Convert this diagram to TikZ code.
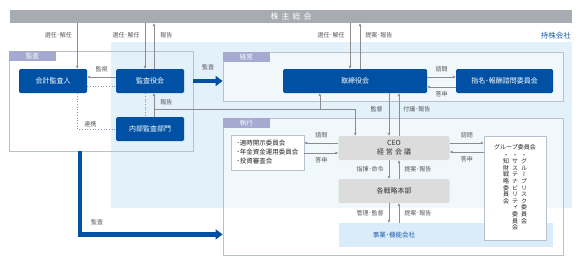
\documentclass[tikz,border=0pt]{standalone}
\usepackage{fontspec}
\setmainfont{Noto Sans CJK JP}
\newfontfamily\tatefont[RawFeature=+vert]{Noto Sans CJK JP}
\usetikzlibrary{arrows.meta,positioning,calc}
\definecolor{kbar}{HTML}{A6ACB1}
\definecolor{kbg}{HTML}{E3F1FA}
\definecolor{kframe}{HTML}{B8C2CE}
\definecolor{ktab}{HTML}{A6AAD0}
\definecolor{kblue}{HTML}{0051A3}
\definecolor{kgray}{HTML}{DCDCDC}
\definecolor{kpale}{HTML}{DAECF9}
\definecolor{ktext}{HTML}{1E5EA8}
\definecolor{kline}{HTML}{8C8C8C}
\definecolor{klabel}{HTML}{555555}
\definecolor{kdot}{HTML}{7E94B4}
\begin{document}
\begin{tikzpicture}[x=1pt, y=-1pt, >={Latex[length=3pt,width=3pt]},
  topbar/.style={fill=kbar, text=white, minimum width=562pt, minimum height=13pt, inner sep=0pt, font=\fontsize{8}{9}\selectfont},
  panel/.style={draw=kframe, line width=.8pt, inner sep=0pt},
  tabbox/.style={fill=ktab, text=white, minimum width=47pt, minimum height=10.5pt, inner sep=0pt, anchor=north west, font=\fontsize{6.5}{7}\selectfont},
  bluebox/.style={fill=kblue, text=white, rounded corners=1.5pt, minimum width=68pt, minimum height=24pt, inner sep=0pt, font=\fontsize{7}{8}\selectfont},
  graybox/.style={fill=kgray, text=black!80, rounded corners=2pt, minimum width=111pt, minimum height=24pt, inner sep=0pt, align=center, font=\fontsize{7}{9}\selectfont},
  listbox/.style={draw=kframe, fill=white, inner sep=0pt},
  lbl/.style={text=klabel, inner sep=1pt, font=\fontsize{6}{7}\selectfont},
  tate/.style={anchor=north, inner sep=0pt, align=center, text=black!85, font=\tatefont\fontsize{6}{6.6}\selectfont},
  conn/.style={draw=kline, line width=.6pt},
  dotline/.style={draw=kdot, line width=.7pt, dotted},
  bigarrow/.style={draw=kblue, line width=4.5pt, -{Triangle[length=7pt,width=10pt]}}]
\useasboundingbox (0,0) rectangle (581,265);
\fill[white] (0,0) rectangle (581,265);
\fill[kbg] (111,42) rectangle (572,208);

% top
\node[topbar] (soukai) at (291,16.5) {株\kern3pt 主\kern3pt 総\kern3pt 会};
\node[text=ktext, anchor=east, inner sep=0pt, font=\fontsize{7.5}{8}\selectfont] (mochikabu) at (571,36) {持株会社};

% panels
\node[panel, minimum width=184pt, minimum height=100pt] (kansa) at (101,101) {};
\node[panel, fill=white, fill opacity=.5, minimum width=340pt, minimum height=49pt] (keiei) at (393,76.5) {};
\node[panel, fill=white, fill opacity=.5, minimum width=340pt, minimum height=137pt] (shikkou) at (393,186.5) {};
\node[tabbox] (kansatab) at (kansa.north west) {監査};
\node[tabbox] (keieitab) at (keiei.north west) {経営};
\node[tabbox] (shikkoutab) at (shikkou.north west) {執行};

% boxes
\node[bluebox] (kaikei) at (53,81) {会計監査人};
\node[bluebox] (kansayaku) at (150,81) {監査役会};
\node[bluebox] (naibu) at (150,129) {内部監査部門};
\node[bluebox, minimum width=144pt] (torishimari) at (355,81) {取締役会};
\node[bluebox, minimum width=97pt] (shimei) at (504.5,81) {指名･報酬諮問委員会};
\node[graybox] (ceo) at (394,148) {CEO\\経\kern2pt 営\kern2pt 会\kern2pt 議};
\node[graybox] (senryaku) at (394,191) {各戦略本部};
\node[fill=kpale, minimum width=214pt, minimum height=24pt, inner sep=0pt] (jigyou) at (446,235) {};
\node[text=ktext, inner sep=0pt, font=\fontsize{6.5}{7}\selectfont] (jigyoutext) at (jigyou -| senryaku) {事業･機能会社};
\node[listbox, minimum width=73pt, minimum height=35pt, align=left, text=black!85, font=\fontsize{6.5}{9}\selectfont] (iinkai) at (267.5,152.5) {･適時開示委員会\\･年金資金運用委員会\\･投資審査会};
\node[listbox, minimum width=62pt, minimum height=104pt] (group) at (515,188) {};
\node[lbl, text=black!85] (grouptitle) at (515,147) {グループ委員会};
\node[tate] (gr1) at (524,154) {・\\グ\\ル\\ー\\プ\\リ\\ス\\ク\\委\\員\\会};
\node[tate] (gr2) at (515,154) {・\\サ\\ス\\テ\\ナ\\ビ\\リ\\テ\\ィ\\委\\員\\会};
\node[tate] (gr3) at (506,154) {・\\知\\財\\戦\\略\\委\\員\\会};

% connector columns
\coordinate (k1) at ([xshift=-10pt]kaikei.north east);
\coordinate (k2) at ([xshift=-5pt]kansayaku.north);
\coordinate (k3) at ([xshift=4pt]kansayaku.north);
\coordinate (t1) at ([xshift=37pt]torishimari.south west);
\coordinate (t2) at ([xshift=-5pt]torishimari.north);
\coordinate (t3) at ([xshift=5pt]torishimari.north);
\coordinate (c1) at ([xshift=17pt]ceo.north west);
\coordinate (c2) at ([xshift=-5pt]ceo.north);
\coordinate (c3) at ([xshift=5pt]ceo.north);
\coordinate (e1) at ([yshift=5pt]ceo.west);
\coordinate (e2) at ([yshift=-5pt]ceo.west);
\coordinate (e3) at ([yshift=5pt]ceo.east);
\coordinate (e4) at ([yshift=-4pt]ceo.east);
\coordinate (hb) at ($(keiei.south)!.5!(shikkou.north)$);
\coordinate (b1) at ([xshift=71.5pt]kansa.south west);
\coordinate (b2) at ([yshift=21pt]shikkou.south west);

% audit side
\draw[conn,->] (k1 |- soukai.south) -- node[lbl, left=4pt, pos=.26] (l1) {選任･解任} (k1);
\draw[conn,->] (k2 |- soukai.south) -- node[lbl, left=4pt, pos=.26] (l2) {選任･解任} (k2);
\draw[conn,->] (k3) -- node[lbl, right=5pt, pos=.74] (l3) {報告} (k3 |- soukai.south);
\draw[conn,->] ([yshift=4pt]kansayaku.west) -- node[lbl, above=4pt] (l4) {監視} ([yshift=4pt]kaikei.east);
\draw[dotline] ([yshift=-5pt]kaikei.east) -- ([yshift=-5pt]kansayaku.west);
\draw[dotline] (k1 |- kaikei.south) |- node[lbl, above=1pt, pos=.67] (l5) {連携} (naibu.west);
\draw[dotline] (k2 |- kansayaku.south) -- (k2 |- naibu.north);
\draw[conn,->] (k3 |- naibu.north) -- node[lbl, right=5pt, pos=.62] (l6) {報告} (k3 |- kansayaku.south);
\draw[conn,->] (k3 |- hb) -| (c1);
\draw[conn,->] (t1 |- hb) -- (t1);

% board
\draw[conn,->] (t2 |- soukai.south) -- node[lbl, left=4pt, pos=.26] (l7) {選任･解任} (t2);
\draw[conn,->] (t3) -- node[lbl, right=4pt, pos=.74] (l8) {提案･報告} (t3 |- soukai.south);
\draw[conn,->] ([yshift=4pt]torishimari.east) -- node[lbl, above=4pt] (l9) {諮問} ([yshift=4pt]shimei.west);
\draw[conn,->] ([yshift=-6pt]shimei.west) -- node[lbl, below=3pt] (l10) {答申} ([yshift=-6pt]torishimari.east);
\draw[conn,->] (c2 |- torishimari.south) -- node[lbl, left=5pt, pos=.37] (l11) {監督} (c2);
\draw[conn,->] (c3) -- node[lbl, right=3pt, pos=.63] (l12) {付議･報告} (c3 |- torishimari.south);

% execution
\draw[conn,->] (e1) -- node[lbl, above=4pt] (l13) {諮問} (e1 -| iinkai.east);
\draw[conn,->] (e2 -| iinkai.east) -- node[lbl, below=3pt] (l14) {答申} (e2);
\draw[conn,->] (e3) -- node[lbl, above=4pt] (l15) {諮問} (e3 -| group.west);
\draw[conn,->] (e4 -| group.west) -- node[lbl, below=3pt] (l16) {答申} (e4);
\draw[conn,->] (c2 |- ceo.south) -- node[lbl, left=4pt] (l17) {指揮･命令} (c2 |- senryaku.north);
\draw[conn,->] (c3 |- senryaku.north) -- node[lbl, right=4pt] (l18) {提案･報告} (c3 |- ceo.south);
\draw[conn,->] (c2 |- senryaku.south) -- node[lbl, left=4pt] (l19) {管理･監督} (c2 |- jigyou.north);
\draw[conn,->] (c3 |- jigyou.north) -- node[lbl, right=4pt] (l20) {提案･報告} (c3 |- senryaku.south);

% audit arrows
\draw[bigarrow] (kansa.east |- kansayaku) -- node[lbl, above=8pt] (l21) {監査} (keiei.west |- kansayaku);
\draw[bigarrow] (b1) |- node[lbl, above=6pt, pos=.56] (l22) {監査} (b2);
\end{tikzpicture}
\end{document}
